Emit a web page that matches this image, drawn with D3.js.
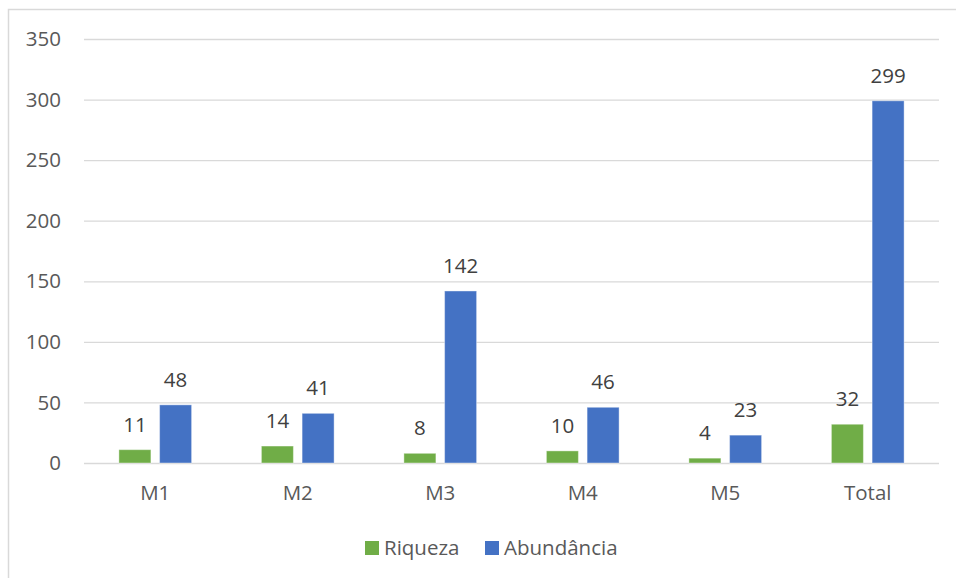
<!DOCTYPE html>
<html>
<head>
<meta charset="utf-8">
<script src="https://cdn.jsdelivr.net/npm/d3@7"></script>
<style>
  body { margin: 0; background: #fff; }
  text { font-family: "Open Sans", sans-serif; }
</style>
</head>
<body>
<div id="chart"></div>
<script>
var categories = ["M1", "M2", "M3", "M4", "M5", "Total"];
var riqueza = [11, 14, 8, 10, 4, 32];
var abundancia = [48, 41, 142, 46, 23, 299];
var yTicks = [0, 50, 100, 150, 200, 250, 300, 350];
var seriesNames = ["Riqueza", "Abundância"];
var colors = ["#70AD47", "#4472C4"];

var W = 956, H = 578;
var margin = {top: 39, left: 84, right: 17, bottom: 115};
var width = W - margin.left - margin.right,
    height = H - margin.top - margin.bottom;
var fs = "20.5px";

var svg = d3.select("#chart").append("svg")
    .attr("width", W)
    .attr("height", H);

// chart frame
svg.append("rect")
    .attr("x", 8.5).attr("y", 9.5)
    .attr("width", W + 20).attr("height", H + 20)
    .attr("fill", "none")
    .attr("stroke", "#d9d9d9")
    .attr("stroke-width", 1.5);

var g = svg.append("g")
    .attr("transform", "translate(" + margin.left + "," + margin.top + ")");

var x = d3.scaleBand().domain(categories).range([0, width]);
var y = d3.scaleLinear().domain([0, 350]).range([height, 0]);

// gridlines
g.selectAll(".grid").data(yTicks).enter().append("line")
    .attr("x1", 0).attr("x2", width)
    .attr("y1", function(d) { return y(d) + 0.5; })
    .attr("y2", function(d) { return y(d) + 0.5; })
    .attr("stroke", "#d9d9d9")
    .attr("stroke-width", 1.3);

// y tick labels
g.selectAll(".ytick").data(yTicks).enter().append("text")
    .attr("x", -23)
    .attr("y", function(d) { return y(d); })
    .attr("dy", "0.35em")
    .attr("text-anchor", "end")
    .attr("fill", "#595959")
    .style("font-size", fs)
    .text(function(d) { return d; });

// x labels
g.selectAll(".xlab").data(categories).enter().append("text")
    .attr("x", function(d) { return x(d) + x.bandwidth() / 2; })
    .attr("y", height + 37)
    .attr("text-anchor", "middle")
    .attr("fill", "#595959")
    .style("font-size", fs)
    .text(function(d) { return d; });

var barW = 32, gap = 8.7;
var series = [riqueza, abundancia];

series.forEach(function(vals, si) {
  var off = x.bandwidth() / 2 - barW - gap / 2 + si * (barW + gap);
  g.selectAll(".bar" + si).data(vals).enter().append("rect")
      .attr("x", function(d, i) { return x(categories[i]) + off; })
      .attr("y", function(d) { return y(d); })
      .attr("width", barW)
      .attr("height", function(d) { return y(0) - y(d); })
      .attr("fill", colors[si])
      .attr("stroke", "#fff")
      .attr("stroke-opacity", 0.4)
      .attr("stroke-width", 1);
  g.selectAll(".lab" + si).data(vals).enter().append("text")
      .attr("x", function(d, i) { return x(categories[i]) + off + barW / 2; })
      .attr("y", function(d) { return y(d) - 18; })
      .attr("text-anchor", "middle")
      .attr("fill", "#404040")
      .style("font-size", fs)
      .text(function(d) { return d; });
});

// legend
var legend = svg.append("g").attr("transform", "translate(365,541)");
var legX = [0, 120];
seriesNames.forEach(function(name, i) {
  legend.append("rect")
      .attr("x", legX[i]).attr("y", 0)
      .attr("width", 14).attr("height", 14)
      .attr("fill", colors[i]);
  legend.append("text")
      .attr("x", legX[i] + 19).attr("y", 7)
      .attr("dy", "0.35em")
      .attr("fill", "#595959")
      .style("font-size", fs)
      .text(name);
});
</script>
</body>
</html>
